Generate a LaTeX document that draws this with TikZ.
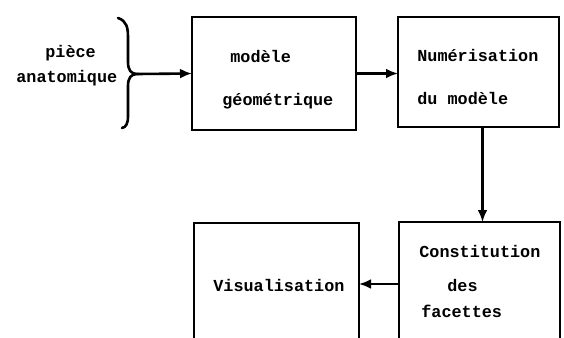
\documentclass[tikz,border=0pt]{standalone}
\usepackage{fontspec}
\setmonofont{Liberation Mono}
\usepackage{tikz}
\usetikzlibrary{calc}
\usetikzlibrary{arrows.meta}

\tikzstyle{bloc} = [draw=black, line width=1pt, rectangle, inner sep=0pt,
outer sep=0pt, anchor=north west]
\tikzstyle{txt} = [inner sep=0pt, anchor=base west,
font=\ttfamily\bfseries\fontsize{8.4}{10}\selectfont]
\tikzstyle{fleche} = [line width=1.3pt, -{Latex[length=6pt,width=5pt]}]

\begin{document}
\begin{tikzpicture}[x=0.5pt, y=-0.5pt]
        \useasboundingbox (0,0) rectangle (564,338);
        \clip (0,0) rectangle (564,338);

        % the four blocks (the lower two run off the bottom)
        \node [bloc, minimum width=82pt, minimum height=56.5pt] (geom) at (192,17) {};
        \node [bloc, minimum width=80.5pt, minimum height=55pt] (numer) at (398,17) {};
        \node [bloc, minimum width=82.5pt, minimum height=68.5pt] (visu) at (194,223) {};
        \node [bloc, minimum width=80.5pt, minimum height=69pt] (facet) at (399,222) {};

        % texts
        \node [txt] (piece) at (45,57) {pièce};
        \node [txt] (anat) at (16,82) {anatomique};
        \node [txt] (geom1) at (230,62) {modèle};
        \node [txt] (geom2) at (222,105) {géométrique};
        \node [txt] (numer1) at (417,61) {Numérisation};
        \node [txt] (numer2) at (417,104) {du modèle};
        \node [txt] (facet1) at (419,257) {Constitution};
        \node [txt] (facet2) at (447,291) {des};
        \node [txt] (facet3) at (421,317) {facettes};
        \node [txt] (visu1) at (213,291) {Visualisation};

        % brace
        \draw [line width=1.3pt, line cap=round]
            (118,18) .. controls (127,21) and (128,28) .. (128,38)
            -- (128,62) .. controls (128,70) and (131,74) .. (137,74)
            coordinate (tip)
            .. controls (131,74) and (128,78) .. (128,86)
            -- (128,116) .. controls (128,124) and (126,127) .. (122,128);

        \coordinate (retour) at ($(facet.north west)+(0,62)$);
        \draw [fleche] (tip) -- (geom.west);
        \draw [fleche] (geom.east) -- (geom.east -| numer.west);
        \draw [fleche] ([xshift=2pt]numer.south) -- ([xshift=2pt]numer.south |- facet.north);
        \draw [fleche] (retour) -- (retour -| visu.east);
    \end{tikzpicture}
\end{document}
